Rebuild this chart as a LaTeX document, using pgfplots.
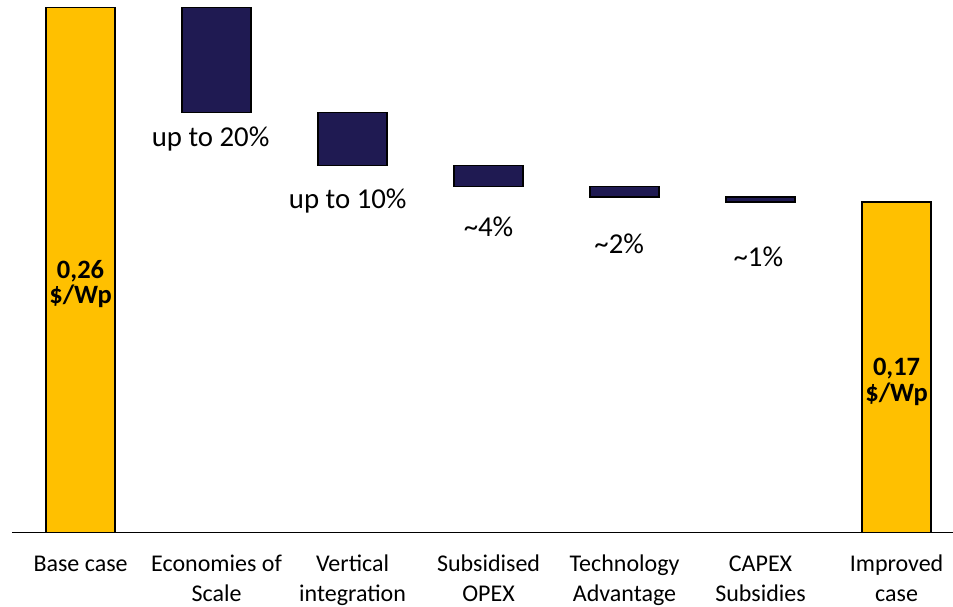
\documentclass[border=0pt]{standalone}
\usepackage{pgfplots}
\pgfplotsset{compat=1.18}
\usepackage{fontspec}
\setmainfont{Carlito}
\definecolor{goldbar}{HTML}{FFC000}
\definecolor{navybar}{HTML}{1F1A52}
\begin{document}
\begin{tikzpicture}
\begin{axis}[
  at={(0,0)}, anchor=south west,
  scale only axis, width=941bp, height=532.5bp,
  xmin=-0.504, xmax=6.415, ymin=0, ymax=0.2637,
  ybar stacked, bar width=69bp,
  axis x line*=bottom, axis y line=none,
  x axis line style={line width=1.8bp, -},
  xtick={0,1,2,3,4,5,6},
  xticklabels={Base case\\\strut, Economies of\\Scale, Vertical\\integration, Subsidised\\OPEX, Technology\\Advantage, CAPEX\\Subsidies, Improved\\case},
  major tick length=0,
  xticklabel style={font=\fontsize{24bp}{29.3bp}\selectfont, align=center, anchor=base, yshift=-68.5bp},
  clip=false,
]
\addplot[draw=none, fill=none] coordinates {(0,0) (1,0.2080) (2,0.1819) (3,0.1713) (4,0.1662) (5,0.1637) (6,0)};
\addplot[draw=black, line width=1.3bp, fill=goldbar] coordinates {(0,0.26) (1,0) (2,0) (3,0) (4,0) (5,0) (6,0.1637)};
\addplot[draw=black, line width=1.3bp, fill=navybar] coordinates {(0,0) (1,0.052) (2,0.0261) (3,0.0106) (4,0.0051) (5,0.0025) (6,0)};
\coordinate (l1) at (axis cs:0.956,0.1911);
\coordinate (l2) at (axis cs:1.965,0.1605);
\coordinate (l3) at (axis cs:3.00,0.1465);
\coordinate (l4) at (axis cs:3.961,0.1383);
\coordinate (l5) at (axis cs:4.984,0.1317);
\coordinate (v1) at (axis cs:0,0.1259);
\coordinate (v2) at (axis cs:0,0.1132);
\coordinate (v3) at (axis cs:6,0.0775);
\coordinate (v4) at (axis cs:6,0.0651);
\end{axis}
\tikzset{lab/.style={anchor=base, inner sep=0pt, font=\fontsize{28.8bp}{34bp}\selectfont},
         val/.style={anchor=base, inner sep=0pt, font=\bfseries\fontsize{26.5bp}{28bp}\selectfont}}
\node[lab] at (l1) {up to 20\%};
\node[lab] at (l2) {up to 10\%};
\node[lab] at (l3) {\textasciitilde 4\%};
\node[lab] at (l4) {\textasciitilde 2\%};
\node[lab] at (l5) {\textasciitilde 1\%};
\node[val] at (v1) {0,26};
\node[val] at (v2) {\$/Wp};
\node[val] at (v3) {0,17};
\node[val] at (v4) {\$/Wp};
\pgfresetboundingbox
\path (-12bp,-74bp) rectangle (941bp,532.5bp);
\end{tikzpicture}
\end{document}
